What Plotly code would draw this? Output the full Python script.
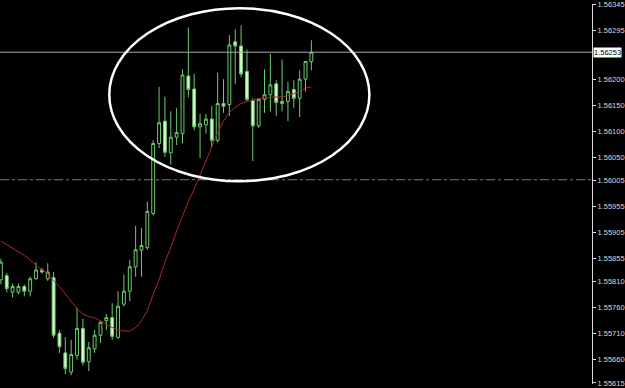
import plotly.graph_objects as go

# candle index (time order)
idx = list(range(54))

opens = [1.55814, 1.55822, 1.55790, 1.55790, 1.55801, 1.55792, 1.55816, 1.55833, 1.55816, 1.55818,
         1.55711, 1.55673, 1.55636, 1.55668, 1.55720, 1.55656, 1.55681, 1.55707, 1.55735, 1.55741,
         1.55703, 1.55767, 1.55792, 1.55839, 1.55871, 1.55876, 1.55942, 1.56077, 1.56120, 1.56059,
         1.56089, 1.56096, 1.56207, 1.56182, 1.56109, 1.56113, 1.56124, 1.56083, 1.56154, 1.56152,
         1.56273, 1.56265, 1.56216, 1.56160, 1.56111, 1.56162, 1.56171, 1.56192, 1.56154, 1.56158,
         1.56181, 1.56164, 1.56201, 1.56235]
highs = [1.55854, 1.55827, 1.55807, 1.55807, 1.55805, 1.55820, 1.55848, 1.55837, 1.55846, 1.55829,
         1.55717, 1.55703, 1.55698, 1.55760, 1.55739, 1.55694, 1.55717, 1.55735, 1.55748, 1.55769,
         1.55792, 1.55824, 1.55852, 1.55918, 1.55914, 1.55965, 1.56083, 1.56186, 1.56167, 1.56139,
         1.56145, 1.56220, 1.56301, 1.56211, 1.56134, 1.56134, 1.56149, 1.56214, 1.56201, 1.56286,
         1.56297, 1.56305, 1.56258, 1.56164, 1.56164, 1.56220, 1.56250, 1.56199, 1.56239, 1.56196,
         1.56199, 1.56218, 1.56235, 1.56276]
lows = [1.55805, 1.55790, 1.55780, 1.55786, 1.55782, 1.55782, 1.55814, 1.55826, 1.55812, 1.55702,
        1.55673, 1.55632, 1.55630, 1.55660, 1.55649, 1.55638, 1.55673, 1.55692, 1.55717, 1.55698,
        1.55700, 1.55762, 1.55773, 1.55820, 1.55820, 1.55872, 1.55938, 1.56068, 1.56051, 1.56036,
        1.56074, 1.56077, 1.56166, 1.56102, 1.56049, 1.56096, 1.56070, 1.56079, 1.56136, 1.56130,
        1.56192, 1.56205, 1.56158, 1.56043, 1.56107, 1.56136, 1.56139, 1.56130, 1.56139, 1.56120,
        1.56145, 1.56128, 1.56177, 1.56218]
closes = [1.55848, 1.55797, 1.55801, 1.55801, 1.55792, 1.55816, 1.55833, 1.55829, 1.55829, 1.55707,
          1.55685, 1.55643, 1.55670, 1.55720, 1.55655, 1.55683, 1.55707, 1.55732, 1.55741, 1.55705,
          1.55763, 1.55792, 1.55839, 1.55872, 1.55880, 1.55946, 1.56077, 1.56117, 1.56060, 1.56089,
          1.56098, 1.56209, 1.56181, 1.56109, 1.56115, 1.56124, 1.56083, 1.56154, 1.56149, 1.56267,
          1.56265, 1.56211, 1.56162, 1.56111, 1.56162, 1.56171, 1.56190, 1.56156, 1.56158, 1.56177,
          1.56164, 1.56201, 1.56235, 1.56253]
ma = [1.55889, 1.55882, 1.55876, 1.55869, 1.55861, 1.55852, 1.55842, 1.55833, 1.55826, 1.55812,
      1.55801, 1.55786, 1.55771, 1.55758, 1.55748, 1.55743, 1.55741, 1.55735, 1.55728, 1.55722,
      1.55718, 1.55715, 1.55715, 1.55722, 1.55735, 1.55754, 1.55786, 1.55814, 1.55848, 1.55876,
      1.55908, 1.55936, 1.55965, 1.55989, 1.56017, 1.56045, 1.56072, 1.56098, 1.56120, 1.56137,
      1.56147, 1.56154, 1.56158, 1.56160, 1.56164, 1.56164, 1.56166, 1.56166, 1.56167, 1.56169,
      1.56173, 1.56177, 1.56184, 1.56186]

tick_vals = [1.56345, 1.56295, 1.56200, 1.56150, 1.56100, 1.56050, 1.56005,
             1.55955, 1.55905, 1.55855, 1.55810, 1.55760, 1.55710, 1.55660, 1.55615]
bid_price = 1.56253
level_price = 1.56007
ellipse_box = dict(x0=18.5, x1=62.9, y0=1.56004, y1=1.56338)

GREEN = "#6ccc6c"
fig = go.Figure()
fig.add_trace(go.Candlestick(
    x=idx, open=opens, high=highs, low=lows, close=closes,
    increasing=dict(line=dict(color=GREEN, width=1), fillcolor="#000000"),
    decreasing=dict(line=dict(color=GREEN, width=1), fillcolor="#dcf5d4"),
    hoverinfo="skip", showlegend=False,
))
fig.add_trace(go.Scatter(x=idx, y=ma, mode="lines",
                         line=dict(color="#b02828", width=1),
                         hoverinfo="skip", showlegend=False))

fig.add_shape(type="line", xref="paper", x0=0, x1=1, yref="y", y0=bid_price, y1=bid_price,
              line=dict(color="#a8a8a8", width=1))
fig.add_shape(type="line", xref="paper", x0=0, x1=1, yref="y", y0=level_price, y1=level_price,
              line=dict(color="#6f826f", width=1, dash="dashdot"))
fig.add_shape(type="circle", xref="x", yref="y", **ellipse_box,
              line=dict(color="#ffffff", width=2.5))

fig.add_annotation(xref="paper", x=1.0, xanchor="left", yref="y", y=bid_price,
                   text=f"{bid_price:.5f}", showarrow=False,
                   bgcolor="#ffffff", font=dict(color="#000000", size=7.5, family="Liberation Sans"),
                   borderpad=0, xshift=1)

fig.update_layout(
    width=625, height=388,
    margin=dict(l=0, r=30, t=0, b=0),
    paper_bgcolor="#000000", plot_bgcolor="#000000",
    xaxis=dict(visible=False, range=[-0.15, 100.9], rangeslider=dict(visible=False)),
    yaxis=dict(side="right", range=[1.55613, 1.56346], tickvals=tick_vals, tickformat=".5f",
               showgrid=False, zeroline=False, showline=True, linecolor="#d8d8d8", linewidth=1,
               ticks="outside", ticklen=3, tickcolor="#d8d8d8", ticklabeloverflow="allow",
               tickfont=dict(color="#d8d8d8", size=7.5, family="Liberation Sans")),
    showlegend=False,
)

fig.write_html("out.html")
